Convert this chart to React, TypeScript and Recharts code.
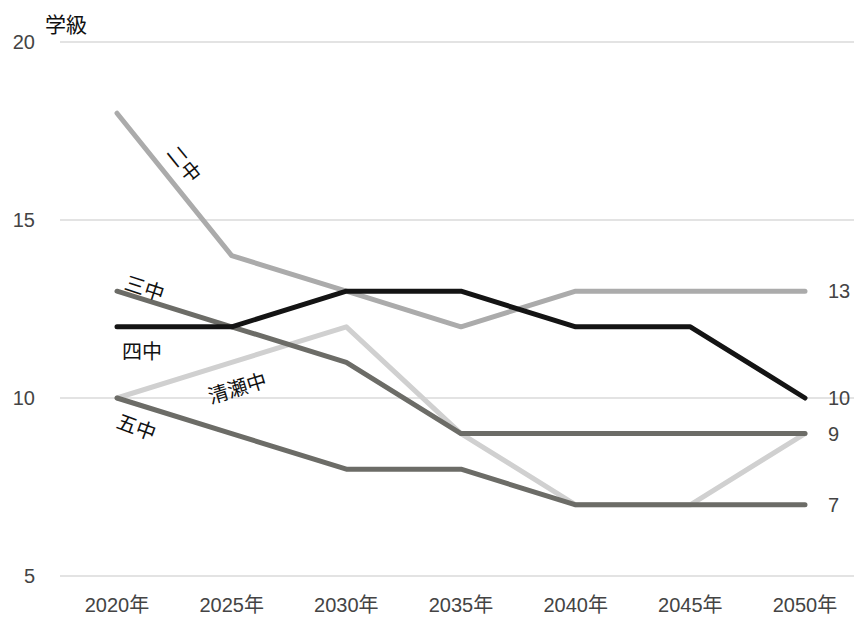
import React from "react";
import { CartesianGrid, LabelList, Line, LineChart, XAxis, YAxis } from "recharts";

const YEARS = ["2020年", "2025年", "2030年", "2035年", "2040年", "2045年", "2050年"];
const NICHU = [18, 14, 13, 12, 13, 13, 13];
const YONCHU = [12, 12, 13, 13, 12, 12, 10];
const SANCHU = [13, 12, 11, 9, 9, 9, 9];
const KIYOSE = [10, 11, 12, 9, 7, 7, 9];
const GOCHU = [10, 9, 8, 8, 7, 7, 7];
const Y_TICKS = [5, 10, 15, 20];

const FONT = "'Liberation Sans', Arial, 'Noto Sans CJK JP', sans-serif";
const JP_FONT = "'Noto Sans CJK JP', 'Liberation Sans', sans-serif";

const data = YEARS.map((year, i) => ({
  year,
  nichu: NICHU[i],
  yonchu: YONCHU[i],
  sanchu: SANCHU[i],
  kiyose: KIYOSE[i],
  gochu: GOCHU[i],
}));

// series name labels sit next to the first point, rotated along the line
function nameLabel(text: string, dx: number, dy: number, angle: number) {
  return (props: any) => {
    if (props.index !== 0) return null;
    const x = Number(props.x) + dx;
    const y = Number(props.y) + dy;
    return (
      <text
        x={x}
        y={y}
        transform={`rotate(${angle} ${x} ${y})`}
        textAnchor="middle"
        dominantBaseline="central"
        fontFamily={JP_FONT}
        fontSize={20}
        fill="#111"
      >
        {text}
      </text>
    );
  };
}

// value label at the right end of the line
function endLabel(props: any) {
  if (props.index !== YEARS.length - 1) return null;
  return (
    <text
      x={Number(props.x) + 23}
      y={Number(props.y)}
      dominantBaseline="central"
      fontFamily={FONT}
      fontSize={20}
      fill="#444"
    >
      {props.value}
    </text>
  );
}

const SERIES = [
  { key: "kiyose", color: "#d0d0d0", label: nameLabel("清瀬中", 120, -11, -17), end: false },
  { key: "nichu", color: "#ababab", label: nameLabel("二中", 68, 50, 51), end: true },
  { key: "gochu", color: "#6c6c67", label: nameLabel("五中", 20, 28, 20), end: true },
  { key: "sanchu", color: "#6c6c67", label: nameLabel("三中", 28, -4, 18), end: true },
  { key: "yonchu", color: "#141414", label: nameLabel("四中", 25, 24, 0), end: true },
];

export default function App() {
  return (
    <div style={{ position: "absolute", left: 0, top: 0, width: 854, height: 617, background: "#fff" }}>
      <div
        style={{
          position: "absolute",
          left: 45,
          top: 10,
          fontFamily: JP_FONT,
          fontSize: 21,
          color: "#111",
          lineHeight: "26px",
        }}
      >
        学級
      </div>
      <LineChart width={854} height={617} data={data} margin={{ top: 42, right: 0, left: 0, bottom: 0 }}>
        <CartesianGrid vertical={false} stroke="#dadada" strokeWidth={1.5} />
        <XAxis
          dataKey="year"
          axisLine={false}
          tickLine={false}
          tickSize={0}
          tickMargin={22}
          height={41}
          padding={{ left: 57, right: 49 }}
          tick={{ fill: "#444", fontSize: 20, fontFamily: FONT }}
          interval={0}
        />
        <YAxis
          domain={[5, 20]}
          ticks={Y_TICKS}
          axisLine={false}
          tickLine={false}
          tickSize={0}
          tickMargin={25}
          width={60}
          tick={{ fill: "#444", fontSize: 20, fontFamily: FONT }}
        />
        {SERIES.map((s) => (
          <Line
            key={s.key}
            dataKey={s.key}
            type="linear"
            stroke={s.color}
            strokeWidth={5}
            strokeLinecap="round"
            strokeLinejoin="round"
            dot={false}
            activeDot={false}
            isAnimationActive={false}
          >
            <LabelList dataKey={s.key} content={s.label} />
            {s.end && <LabelList dataKey={s.key} content={endLabel} />}
          </Line>
        ))}
      </LineChart>
    </div>
  );
}
